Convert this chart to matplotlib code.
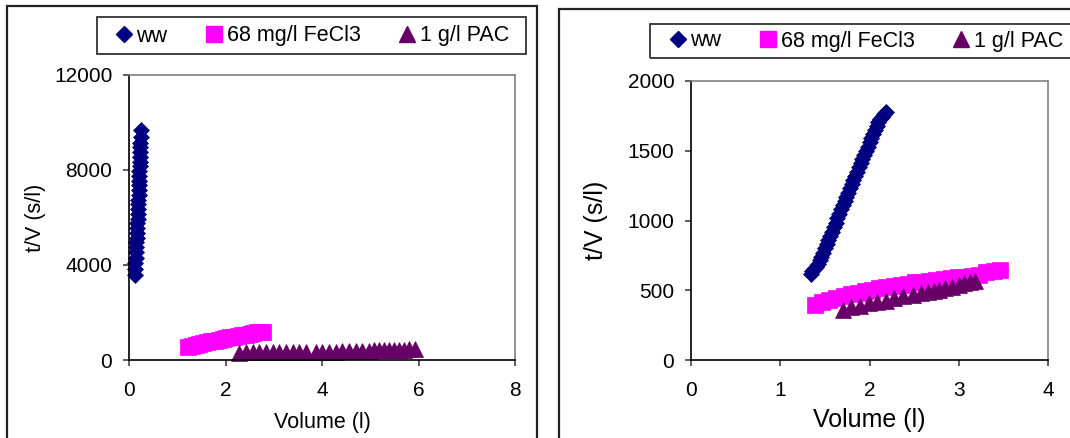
import matplotlib
matplotlib.use("Agg")
import matplotlib.pyplot as plt
from matplotlib.patches import Rectangle
from matplotlib.lines import Line2D

plt.rcParams['font.family'] = ['Liberation Sans', 'DejaVu Sans']

# ---------------- data ----------------
series_labels = ["ww", "68 mg/l FeCl3", "1 g/l PAC"]
series_colors = ["#000080", "#FF00FF", "#660066"]
series_markers = ["D", "s", "^"]

# Left panel
ww_left_x = [0.12, 0.13, 0.13, 0.14, 0.14, 0.15, 0.15, 0.16, 0.16, 0.17, 0.17, 0.18,
             0.18, 0.18, 0.19, 0.19, 0.20, 0.20, 0.20, 0.21, 0.21, 0.21, 0.22, 0.22,
             0.22, 0.23, 0.23, 0.23, 0.24, 0.24]
ww_left_y = [3600, 3850, 4100, 4300, 4550, 4750, 4950, 5150, 5350, 5550, 5750, 5950,
             6150, 6350, 6550, 6750, 6950, 7150, 7350, 7550, 7750, 7950, 8150, 8350,
             8550, 8750, 8950, 9150, 9400, 9700]
fe_left_x = [1.22, 1.30, 1.38, 1.46, 1.54, 1.62, 1.70, 1.78, 1.86, 1.94, 2.02, 2.10,
             2.18, 2.26, 2.34, 2.42, 2.50, 2.58, 2.66, 2.72, 2.77]
fe_left_y = [546, 580, 620, 680, 715, 750, 785, 820, 855, 890, 920, 950,
             980, 1010, 1040, 1070, 1100, 1130, 1160, 1180, 1190]
pac_left_x = [2.29, 2.43, 2.56, 2.70, 2.84, 2.98, 3.11, 3.25, 3.39, 3.53, 3.66, 3.87,
              4.01, 4.15, 4.29, 4.42, 4.56, 4.70, 4.83, 4.97, 5.08, 5.18, 5.28, 5.39,
              5.49, 5.59, 5.70, 5.80, 5.92]
pac_left_y = [315, 318, 322, 326, 330, 334, 338, 342, 346, 350, 354, 330,
              340, 348, 356, 364, 372, 380, 388, 396, 404, 410, 416, 422,
              428, 436, 442, 448, 455]

# Right panel
ww_right_x = [1.34, 1.36, 1.38, 1.40, 1.42, 1.44, 1.46, 1.48, 1.50, 1.52, 1.54, 1.56,
              1.58, 1.60, 1.62, 1.64, 1.66, 1.68, 1.70, 1.72, 1.74, 1.76, 1.78, 1.80,
              1.82, 1.84, 1.86, 1.88, 1.90, 1.92, 1.94, 1.96, 1.98, 2.00, 2.02, 2.04,
              2.06, 2.08, 2.10, 2.12, 2.14, 2.16, 2.18]
ww_right_y = [620, 635, 650, 670, 690, 715, 740, 770, 800, 830, 860, 890,
              920, 952, 985, 1018, 1050, 1080, 1110, 1140, 1170, 1200, 1230, 1260,
              1290, 1320, 1350, 1380, 1410, 1440, 1470, 1500, 1530, 1560, 1590, 1620,
              1650, 1678, 1705, 1725, 1745, 1765, 1780]
fe_right_x = [1.39, 1.47, 1.55, 1.63, 1.71, 1.79, 1.87, 1.95, 2.03, 2.11, 2.19, 2.27,
              2.35, 2.43, 2.51, 2.59, 2.67, 2.75, 2.83, 2.91, 2.99, 3.07, 3.15, 3.23,
              3.31, 3.39, 3.46]
fe_right_y = [394, 415, 430, 445, 458, 470, 482, 494, 505, 515, 525, 532,
              540, 548, 556, 562, 568, 574, 580, 586, 592, 598, 604, 612,
              632, 640, 644]
pac_right_x = [1.70, 1.79, 1.89, 1.99, 2.08, 2.18, 2.27, 2.38, 2.49, 2.58, 2.65, 2.72,
               2.78, 2.85, 2.92, 3.00, 3.06, 3.13, 3.18]
pac_right_y = [360, 377, 384, 408, 415, 420, 444, 456, 468, 480, 487, 496,
               503, 515, 525, 539, 551, 558, 568]

left_xticks = [0, 2, 4, 6, 8]
left_yticks = [0, 4000, 8000, 12000]
right_xticks = [0, 1, 2, 3, 4]
right_yticks = [0, 500, 1000, 1500, 2000]

x_label = "Volume (l)"
y_label = "t/V (s/l)"

# ---------------- figure ----------------
W, H = 1070, 438
fig = plt.figure(figsize=(W / 100, H / 100), dpi=100)


def fx(px):
    return px / W


def fy(py):
    return 1 - py / H


# outer frames
fig.patches.append(Rectangle((fx(7), fy(445)), fx(537 - 7), (445 - 6) / H,
                             transform=fig.transFigure, fill=False,
                             edgecolor="#222222", linewidth=1.6))
fig.patches.append(Rectangle((fx(559), fy(445)), fx(1080 - 559), (445 - 9) / H,
                             transform=fig.transFigure, fill=False,
                             edgecolor="#222222", linewidth=1.6))

marker_sizes = {"D": 8.4, "s": 11.5, "^": 11.5}


def style_axes(ax, xticks, yticks, tick_fs, lab_fs, ylab_x, xlab_y):
    ax.set_xticks(xticks)
    ax.set_yticks(yticks)
    ax.set_xlim(xticks[0], xticks[-1])
    ax.set_ylim(yticks[0], yticks[-1])
    for s in ["top", "right"]:
        ax.spines[s].set_color("#808080")
        ax.spines[s].set_linewidth(1.2)
    for s in ["left", "bottom"]:
        ax.spines[s].set_color("#000000")
        ax.spines[s].set_linewidth(1.2)
    ax.tick_params(axis="both", direction="out", length=4, width=1.1,
                   color="#333333", labelsize=tick_fs)
    ax.tick_params(axis="x", pad=11)
    ax.tick_params(axis="y", pad=8)
    ax.set_xlabel(x_label, fontsize=lab_fs)
    ax.set_ylabel(y_label, fontsize=lab_fs)
    ax.xaxis.set_label_coords(0.5, xlab_y)
    ax.xaxis.label.set_verticalalignment("center")
    ax.yaxis.set_label_coords(ylab_x, 0.5)
    ax.yaxis.label.set_verticalalignment("center")


def plot_series(ax, data):
    for (x, y), c, m in zip(data, series_colors, series_markers):
        ax.plot(x, y, linestyle="none", marker=m, markersize=marker_sizes[m],
                color=c, markeredgecolor=c, markeredgewidth=0.5, clip_on=False)


# Left axes
axL = fig.add_axes([fx(129), fy(360), fx(515 - 129), (360 - 75) / H])
plot_series(axL, [(ww_left_x, ww_left_y), (fe_left_x, fe_left_y), (pac_left_x, pac_left_y)])
style_axes(axL, left_xticks, left_yticks, 15, 15.5, -0.2435, -0.221)

# Right axes
axR = fig.add_axes([fx(691), fy(360), fx(1048 - 691), (360 - 81) / H])
plot_series(axR, [(ww_right_x, ww_right_y), (fe_right_x, fe_right_y), (pac_right_x, pac_right_y)])
style_axes(axR, right_xticks, right_yticks, 15, 18, -0.266, -0.215)

# Legends
handles = [Line2D([], [], linestyle="none", marker=m, markersize=marker_sizes[m],
                  color=c, markeredgecolor=c)
           for c, m in zip(series_colors, series_markers)]


def add_legend(box, center):
    x0, y0, x1, y1 = box
    fig.patches.append(Rectangle((fx(x0), fy(y1)), fx(x1 - x0), (y1 - y0) / H,
                                 transform=fig.transFigure, fill=False,
                                 edgecolor="#333333", linewidth=1.3))
    fig.legend(handles, series_labels, loc="center", ncol=3, frameon=False,
               bbox_to_anchor=(fx(center[0]), fy(center[1])),
               fontsize=15.5, handlelength=0.8, handletextpad=0.2,
               columnspacing=1.75, borderpad=0, borderaxespad=0)


add_legend((97, 17, 526, 54), (312, 36))
add_legend((650, 24, 1080, 58), (866, 41))

fig.savefig("out.png", dpi=100)
